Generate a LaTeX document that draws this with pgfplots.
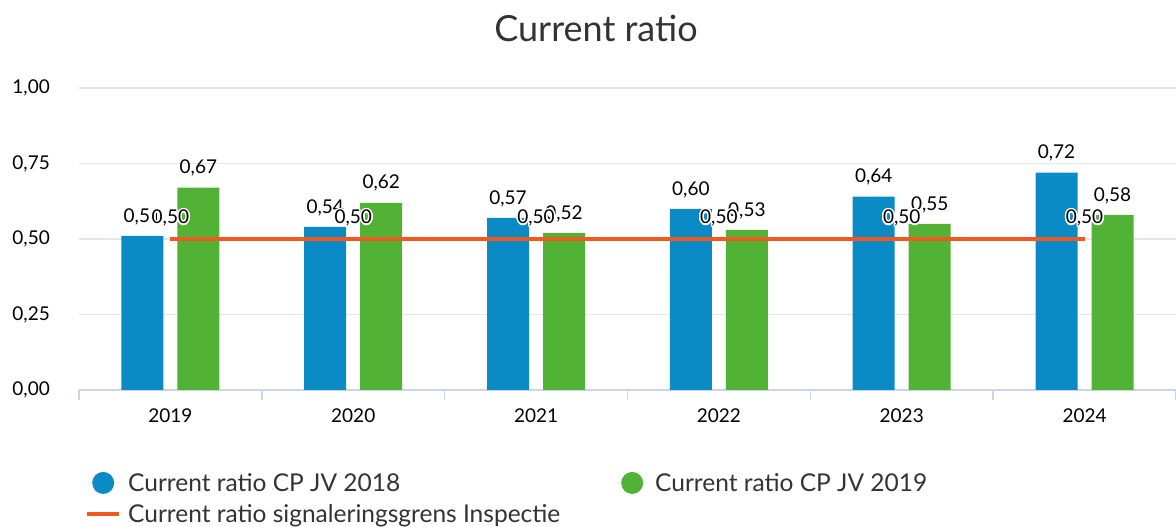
\documentclass[border=0pt]{standalone}
\usepackage{fontspec}
\setmainfont{Lato}
\usepackage{pgfplots}
\pgfplotsset{compat=1.18}
\usepackage{contour}
\contourlength{1.5pt}
\definecolor{cblue}{HTML}{0A8BC6}
\definecolor{cgreen}{HTML}{52B236}
\definecolor{corange}{HTML}{F05A22}
\definecolor{cgrid}{HTML}{E6E6E6}
\definecolor{caxis}{HTML}{CCD6EB}
\definecolor{ctext}{HTML}{333333}
\begin{document}
\begin{tikzpicture}
\path[use as bounding box] (-79pt,-137pt) rectangle (1097pt,390pt);
\begin{axis}[
  scale only axis, width=1097pt, height=302pt,
  xmin=-0.5, xmax=5.5, ymin=0, ymax=1,
  axis x line*=bottom, axis y line*=left,
  separate axis lines,
  x axis line style={caxis, line width=1.5pt, -},
  y axis line style={draw=none},
  xtick={0,1,2,3,4,5},
  xticklabels={2019,2020,2021,2022,2023,2024},
  minor xtick={-0.5,0.5,1.5,2.5,3.5,4.5,5.5},
  major tick length=0pt, minor tick length=10pt, tick align=outside,
  minor x tick style={caxis, line width=1.5pt},
  ytick={0,0.25,0.5,0.75,1},
  ymajorgrids, grid style={cgrid, line width=1.5pt},
  /pgf/number format/.cd, fixed, fixed zerofill, precision=2, use comma, assume math mode=true, /pgfplots/.cd,
  yticklabel style={font=\fontsize{19}{22}\selectfont, text=black, inner sep=0pt, anchor=east, xshift=-29pt},
  xticklabel style={font=\fontsize{19}{22}\selectfont, text=black, inner sep=0pt, anchor=north, yshift=-19pt},
  legend columns=2,
  legend cell align=left,
  legend style={at={(0,0)}, anchor=north west, xshift=6pt, yshift=-81pt, draw=none, fill=none,
    font=\fontsize{24.5}{28}\selectfont, text=ctext, row sep=8pt, inner sep=0pt, nodes={inner sep=2pt},
    /tikz/every odd column/.append style={column sep=5pt}},
  clip=false,
]
\addplot[ybar, bar width=42pt, bar shift=-28pt, fill=cblue, draw=none,
  nodes near coords, every node near coord/.append style={font=\fontsize{19}{22}\selectfont, text=black, anchor=south, inner sep=0pt, yshift=11pt, xshift=-28pt},
  legend image code/.code={\path (0pt,0pt) -- (32pt,0pt); \fill[cblue] (16pt,0pt) circle[radius=11pt];}]
  coordinates {(0,0.51) (1,0.54) (2,0.57) (3,0.60) (4,0.64) (5,0.72)};
\addlegendentry{\makebox[486pt][l]{Current ratio CP JV 2018}}
\addplot[ybar, bar width=42pt, bar shift=28pt, fill=cgreen, draw=none,
  nodes near coords, every node near coord/.append style={font=\fontsize{19}{22}\selectfont, text=black, anchor=south, inner sep=0pt, yshift=11pt, xshift=28pt},
  legend image code/.code={\path (0pt,0pt) -- (32pt,0pt); \fill[cgreen] (16pt,0pt) circle[radius=11pt];}]
  coordinates {(0,0.67) (1,0.62) (2,0.52) (3,0.53) (4,0.55) (5,0.58)};
\addlegendentry{Current ratio CP JV 2019}
\addplot[corange, line width=4pt, mark=none,
  nodes near coords={\contour{white}{\pgfmathprintnumber\pgfplotspointmeta}},
  every node near coord/.append style={font=\fontsize{19}{22}\selectfont, text=black, anchor=south, inner sep=0pt, yshift=9pt},
  legend image code/.code={\draw[corange, line width=4pt] (0pt,0pt) -- (32pt,0pt);}]
  coordinates {(0,0.50) (1,0.50) (2,0.50) (3,0.50) (4,0.50) (5,0.50)};
\addlegendentry{\makebox[486pt][l]{Current ratio signaleringsgrens Inspectie}}
\end{axis}
\node[font=\fontsize{36}{42}\selectfont, text=ctext] at (517pt,362pt) {Current ratio};
\end{tikzpicture}
\end{document}
